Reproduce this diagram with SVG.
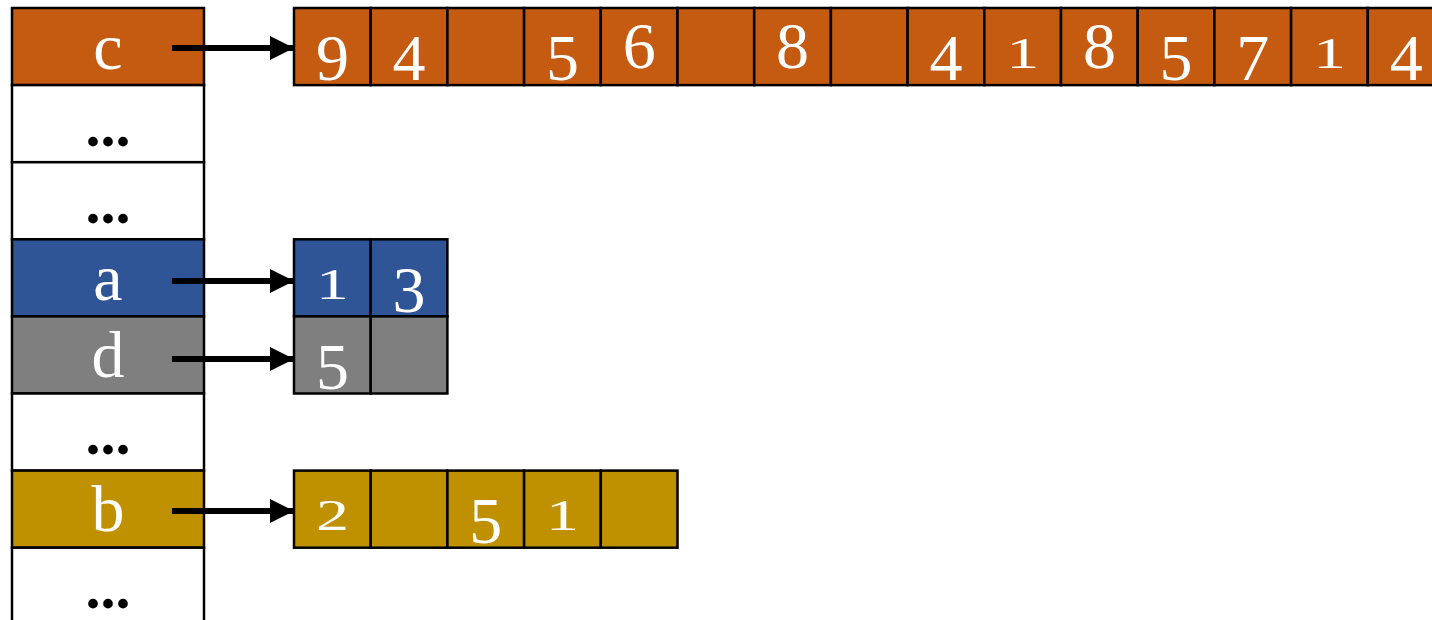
<svg xmlns="http://www.w3.org/2000/svg" width="1432" height="620" viewBox="0 0 1432 620">
<style>
.cell{stroke:#000;stroke-width:2.5}
.o{fill:#C55A11}.bl{fill:#2F5597}.g{fill:#7F7F7F}.y{fill:#BF9000}.w{fill:#FFFFFF}
text{font-family:"Liberation Serif","Times New Roman",serif;text-anchor:middle}
.lbl{fill:#FFFFFF;font-size:66px}
.dots{fill:#000;font-size:60px;font-weight:bold}
.dg{fill:#FFFFFF;font-size:66px}
.sm{fill:#FFFFFF;font-size:66px}
.conn{stroke:#000;stroke-width:6}
</style>
<defs>
<marker id="ah" viewBox="0 0 24 24" refX="24" refY="12" markerWidth="24" markerHeight="24" markerUnits="userSpaceOnUse" orient="auto">
<path d="M0,0 L24,12 L0,24 Z" fill="#000"/>
</marker>
</defs>
<g id="table">
<g id="row-c"><rect class="cell o" x="12" y="8" width="192" height="77.1"/><text class="lbl" x="108" y="69">c</text></g>
<g id="row-e1"><rect class="cell w" x="12" y="85.1" width="192" height="77.1"/><text class="dots" x="108" y="146">...</text></g>
<g id="row-e2"><rect class="cell w" x="12" y="162.2" width="192" height="77.1"/><text class="dots" x="108" y="223">...</text></g>
<g id="row-a"><rect class="cell bl" x="12" y="239.3" width="192" height="77.1"/><text class="lbl" x="108" y="300">a</text></g>
<g id="row-d"><rect class="cell g" x="12" y="316.4" width="192" height="77.1"/><text class="lbl" x="108" y="377">d</text></g>
<g id="row-e3"><rect class="cell w" x="12" y="393.5" width="192" height="77.1"/><text class="dots" x="108" y="454">...</text></g>
<g id="row-b"><rect class="cell y" x="12" y="470.6" width="192" height="77.1"/><text class="lbl" x="108" y="531">b</text></g>
<g id="row-e4"><rect class="cell w" x="12" y="547.7" width="192" height="90"/><text class="dots" x="108" y="608">...</text></g>
</g>
<g id="array-c">
<rect class="cell o" x="294" y="8" width="76.7" height="77.1"/>
<rect class="cell o" x="370.7" y="8" width="76.7" height="77.1"/>
<rect class="cell o" x="447.4" y="8" width="76.7" height="77.1"/>
<rect class="cell o" x="524.1" y="8" width="76.7" height="77.1"/>
<rect class="cell o" x="600.8" y="8" width="76.7" height="77.1"/>
<rect class="cell o" x="677.5" y="8" width="76.7" height="77.1"/>
<rect class="cell o" x="754.2" y="8" width="76.7" height="77.1"/>
<rect class="cell o" x="830.9" y="8" width="76.7" height="77.1"/>
<rect class="cell o" x="907.6" y="8" width="76.7" height="77.1"/>
<rect class="cell o" x="984.3" y="8" width="76.7" height="77.1"/>
<rect class="cell o" x="1061" y="8" width="76.7" height="77.1"/>
<rect class="cell o" x="1137.7" y="8" width="76.7" height="77.1"/>
<rect class="cell o" x="1214.4" y="8" width="76.7" height="77.1"/>
<rect class="cell o" x="1291.1" y="8" width="76.7" height="77.1"/>
<rect class="cell o" x="1367.8" y="8" width="76.7" height="77.1"/>
<text class="dg" x="332.4" y="80">9</text>
<text class="dg" x="409" y="80">4</text>
<text class="dg" x="562.5" y="80">5</text>
<text class="dg" x="639.2" y="68">6</text>
<text class="dg" x="792.6" y="68">8</text>
<text class="dg" x="946" y="80">4</text>
<text class="sm" transform="translate(1022.7,68) scale(1,0.68)">1</text>
<text class="dg" x="1099.4" y="68">8</text>
<text class="dg" x="1176" y="80">5</text>
<text class="dg" x="1252.8" y="80">7</text>
<text class="sm" transform="translate(1329.5,68) scale(1,0.68)">1</text>
<text class="dg" x="1406.2" y="80">4</text>
</g>
<g id="array-a">
<rect class="cell bl" x="294" y="239.3" width="76.7" height="77.1"/>
<rect class="cell bl" x="370.7" y="239.3" width="76.7" height="77.1"/>
<text class="sm" transform="translate(332.4,299) scale(1,0.68)">1</text>
<text class="dg" x="409" y="312">3</text>
</g>
<g id="array-d">
<rect class="cell g" x="294" y="316.4" width="76.7" height="77.1"/>
<rect class="cell g" x="370.7" y="316.4" width="76.7" height="77.1"/>
<text class="dg" x="332.4" y="389">5</text>
</g>
<g id="array-b">
<rect class="cell y" x="294" y="470.6" width="76.7" height="77.1"/>
<rect class="cell y" x="370.7" y="470.6" width="76.7" height="77.1"/>
<rect class="cell y" x="447.4" y="470.6" width="76.7" height="77.1"/>
<rect class="cell y" x="524.1" y="470.6" width="76.7" height="77.1"/>
<rect class="cell y" x="600.8" y="470.6" width="76.7" height="77.1"/>
<text class="sm" transform="translate(332.4,530) scale(1,0.68)">2</text>
<text class="dg" x="485.7" y="543">5</text>
<text class="sm" transform="translate(562.5,530) scale(1,0.68)">1</text>
</g>
<g id="connectors">
<line class="conn" x1="172" y1="48" x2="294" y2="48" marker-end="url(#ah)"/>
<line class="conn" x1="172" y1="281" x2="294" y2="281" marker-end="url(#ah)"/>
<line class="conn" x1="172" y1="359" x2="294" y2="359" marker-end="url(#ah)"/>
<line class="conn" x1="172" y1="511" x2="294" y2="511" marker-end="url(#ah)"/>
</g>
</svg>
